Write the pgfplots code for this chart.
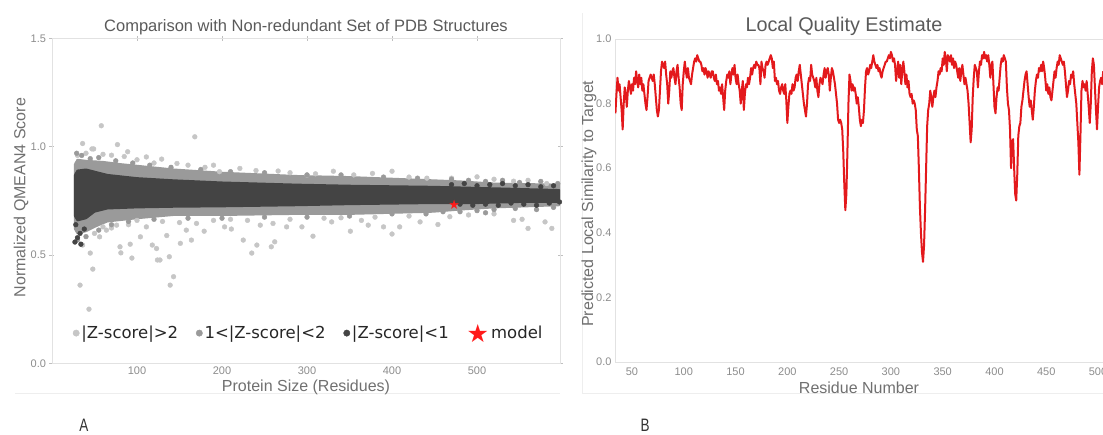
\documentclass[border=0pt]{standalone}
\usepackage{pgfplots}
\pgfplotsset{compat=1.18}
\usepackage{fontspec}
\setmainfont{Liberation Sans}
\newfontfamily\dejavu{DejaVu Sans}

\definecolor{lightc}{HTML}{C6C6C6}
\definecolor{medc}{HTML}{9A9A9A}
\definecolor{darkc}{HTML}{444444}
\definecolor{linered}{HTML}{E3191C}
\definecolor{starred}{HTML}{FF1A1A}
\definecolor{ticktext}{HTML}{8C8C8C}
\definecolor{labeltext}{HTML}{707070}
\definecolor{titletext}{HTML}{5A5A5A}
\definecolor{axisline}{HTML}{E2E2E2}
\definecolor{frameline}{HTML}{EEEEEE}

\tikzset{lab/.style={font=\fontsize{16}{19}\selectfont, text=labeltext}}
\pgfplotsset{
  panel/.style={
    scale only axis,
    axis line style={axisline, line width=0.8pt},
    tick style={color=black!25, line width=0.6pt},
    tick label style={font=\fontsize{11}{13}\selectfont, text=ticktext},
    /pgf/number format/assume math mode=true,
  },
}

\begin{document}
\begin{tikzpicture}

% faint panel frames
\draw[frameline, line width=0.8pt] (15pt,42pt) -- (560pt,42pt);
\draw[frameline, line width=0.8pt] (582pt,42pt) -- (1103pt,42pt);
\draw[frameline, line width=0.8pt] (582pt,42pt) -- (582pt,422pt);

% ---------------- panel A ----------------
\begin{axis}[panel,
  at={(52pt,71.7pt)}, anchor=south west,
  width=508pt, height=324.8pt,
  xmin=0, xmax=597.6, ymin=0, ymax=1.5,
  xtick={100,200,300,400,500}, ytick={0,0.5,1,1.5},
  xtick pos=upper, xticklabel pos=lower,
  tick align=center, major tick length=5pt,
  xticklabel style={yshift=3pt},
  yticklabel style={/pgf/number format/.cd, fixed, fixed zerofill, precision=1},
  title={Comparison with Non-redundant Set of PDB Structures},
  title style={font=\fontsize{16.5}{19}\selectfont, text=titletext,
    at={(axis description cs:0.5,1)}, anchor=center, yshift=5pt},
  xlabel={Protein Size (Residues)},
  xlabel style={lab, at={(axis description cs:0.5,-0.074)}, anchor=center},
  ylabel={Normalized QMEAN4 Score},
  ylabel style={lab, at={(axis description cs:-0.061,0.51)}, anchor=center},
  legend style={at={(axis description cs:0.035,0.093)}, anchor=west,
    draw=none, fill=none, legend columns=4,
    font=\dejavu\fontsize{16.5}{19}\selectfont, text=black!85,
    /tikz/every even column/.append style={column sep=16pt}},
  mark size=2.4pt,
]

% |Z-score|>2 (sparse outliers)
\addplot[only marks, mark=*, color=lightc, forget plot] coordinates {
(58,1.097) (168,1.046) (36,1.015) (77,1.01) (47,0.99) (49,0.99) (89,0.977) (111,0.953)
(129,0.943) (70,0.961) (190,0.915) (221,0.90) (266,0.888) (197,0.885) (147,0.923) (331,0.887)
(400,0.887) (500,0.861) (543,0.841) (582,0.83) (441,0.855) (300,0.869) (377,0.877) (100,0.94)
(120,0.925) (160,0.915) (240,0.89) (310,0.875) (355,0.87) (420,0.86) (470,0.855) (520,0.85)
(560,0.845) (85,0.955) (60,0.965) (40,0.97) (30,0.96) (180,0.905) (280,0.88)
(33,0.361) (43.5,0.25) (48,0.435) (45,0.509) (36,0.546) (80,0.538) (81,0.51) (94,0.486)
(124,0.477) (127,0.477) (138,0.492) (143,0.40) (139,0.361) (118,0.546) (123,0.53) (92,0.55)
(104,0.584) (135,0.59) (151,0.554) (164,0.569) (158,0.615) (179,0.61) (203,0.63) (225,0.569)
(235,0.509) (241,0.546) (258,0.538) (262,0.561) (245,0.638) (276,0.63) (56,0.584) (64,0.615)
(76,0.638) (111,0.63) (170,0.646) (211,0.62) (260,0.646) (307,0.587) (351,0.61) (400,0.597)
(409,0.63) (454,0.641) (468,0.677) (560,0.623) (588,0.623) (390,0.63) (372,0.638) (329,0.653)
(294,0.63) (364,0.66) (433,0.653) (543,0.66) (580,0.653) (553,0.665) (90,0.64) (130,0.655)
(190,0.66) (230,0.66) (280,0.665) (320,0.67) (380,0.675) (420,0.68) (490,0.685) (520,0.69)
(50,0.60) (70,0.625) (150,0.65) (100,0.66) (210,0.665) (340,0.672) (60,0.63)
};

% 1<|Z-score|<2 : dense band and its ragged edge
\addplot[fill=medc, draw=medc, line width=2pt, line join=round, forget plot] coordinates {
(27,0.92) (30,0.94) (40,0.935) (60,0.93) (80,0.92) (143,0.895) (200,0.88) (288,0.865)
(350,0.86) (448,0.845) (480,0.84) (520,0.83) (597,0.825)
(597,0.73) (520,0.72) (480,0.71) (448,0.70) (350,0.69) (288,0.69) (200,0.685) (143,0.685)
(100,0.67) (65,0.655) (50,0.63) (40,0.61) (30,0.60) (27,0.62) (27,0.92)
};
\addplot[only marks, mark=*, color=medc, forget plot] coordinates {
(29,0.97) (35,0.96) (45,0.945) (55,0.95) (75,0.935) (95,0.925) (115,0.915) (140,0.905)
(175,0.895) (210,0.885) (250,0.88) (300,0.87) (340,0.87) (390,0.86) (430,0.855) (470,0.85)
(490,0.845) (510,0.84) (530,0.845) (550,0.835) (575,0.84) (595,0.83)
(30,0.57) (40,0.585) (55,0.615) (70,0.64) (90,0.655) (120,0.665) (160,0.67) (200,0.67)
(250,0.675) (300,0.675) (350,0.68) (400,0.69) (440,0.69) (480,0.70) (500,0.705) (520,0.71)
(545,0.715) (570,0.71) (590,0.72) (460,0.70) (510,0.695)
};

% |Z-score|<1 : dense band and its ragged edge
\addplot[fill=darkc, draw=darkc, line width=2pt, line join=round, forget plot] coordinates {
(27,0.87) (30,0.89) (40,0.895) (50,0.885) (65,0.87) (100,0.855) (143,0.845) (200,0.835)
(288,0.825) (350,0.82) (448,0.815) (500,0.81) (550,0.805) (597,0.80)
(597,0.745) (550,0.745) (500,0.74) (448,0.74) (350,0.735) (288,0.73) (200,0.725) (143,0.723)
(100,0.72) (65,0.715) (50,0.70) (40,0.67) (30,0.66) (27,0.68) (27,0.87)
};
\addplot[only marks, mark=*, color=darkc, forget plot] coordinates {
(27,0.56) (30,0.58) (33,0.60) (28,0.64) (38,0.62) (34,0.55)
(470,0.825) (485,0.83) (500,0.82) (515,0.825) (530,0.83) (545,0.82) (560,0.825) (575,0.815)
(590,0.82) (480,0.735) (495,0.73) (510,0.735) (525,0.73) (540,0.74) (555,0.735) (570,0.73)
(585,0.74) (597,0.745)
};

% the model
\addplot[only marks, color=starred, mark=text,
  text mark={\dejavu\fontsize{13}{13}\selectfont\textcolor{starred}{★}}, forget plot]
  coordinates {(473,0.73)};

\addlegendimage{only marks, mark=*, color=lightc, mark size=3.2pt}
\addlegendentry{|Z-score|>2}
\addlegendimage{only marks, mark=*, color=medc, mark size=3.2pt}
\addlegendentry{1<|Z-score|<2}
\addlegendimage{only marks, mark=*, color=darkc, mark size=3.2pt}
\addlegendentry{|Z-score|<1}
\addlegendimage{only marks, color=starred, mark=text,
  text mark={\dejavu\fontsize{25}{25}\selectfont\textcolor{starred}{★}}}
\addlegendentry{model}
\end{axis}

% ---------------- panel B ----------------
\begin{axis}[panel,
  at={(615pt,73pt)}, anchor=south west,
  width=488pt, height=323pt,
  xmin=33.6, xmax=504.8, ymin=0, ymax=1,
  axis x line=box, axis y line=left,
  x axis line style={-}, y axis line style={-},
  xtick={50,100,...,500}, ytick={0,0.2,0.4,0.6,0.8,1.0},
  major tick length=0pt,
  xticklabel style={yshift=-2pt},
  yticklabel style={/pgf/number format/.cd, fixed, fixed zerofill, precision=1},
  title={Local Quality Estimate},
  title style={font=\fontsize{19.8}{23}\selectfont, text=titletext,
    at={(axis description cs:0.5,1)}, anchor=center, yshift=7pt, xshift=-15pt},
  xlabel={Residue Number},
  xlabel style={lab, at={(axis description cs:0.5,-0.08)}, anchor=center},
  ylabel={Predicted Local Similarity to Target},
  ylabel style={lab, at={(axis description cs:-0.0533,0.49)}, anchor=center},
]
\addplot[linered, line width=2pt, line join=round] coordinates {
(34,.77) (35,.83) (36,.88) (37,.84) (38,.86) (39,.82) (40,.78) (41,.72) (42,.80) (43,.85)
(44,.83) (45,.79) (46,.84) (47,.87) (48,.85) (49,.83) (50,.86) (51,.84) (52,.88) (53,.86)
(54,.90) (55,.87) (56,.85) (57,.89) (58,.86) (59,.88) (60,.84) (61,.86) (62,.83) (63,.80)
(64,.78) (65,.82) (66,.87) (67,.88) (68,.89) (69,.88) (70,.87) (71,.89) (72,.86) (73,.82)
(74,.78) (75,.76) (76,.78) (77,.84) (78,.90) (79,.93) (80,.92) (81,.91) (82,.93) (83,.89)
(84,.86) (85,.80) (86,.84) (87,.90) (88,.88) (89,.90) (90,.91) (91,.88) (92,.86) (93,.90)
(94,.92) (95,.88) (96,.85) (97,.80) (98,.78) (99,.86) (100,.90) (101,.93) (102,.90) (103,.88)
(104,.91) (105,.88) (106,.87) (107,.86) (108,.89) (109,.91) (110,.93) (111,.94) (112,.93) (113,.95)
(114,.94) (115,.93) (116,.93) (117,.92) (118,.90) (119,.91) (120,.89) (121,.91) (122,.90) (123,.88)
(124,.90) (125,.89) (126,.88) (127,.90) (128,.90) (129,.88) (130,.87) (131,.89) (132,.86) (133,.87)
(134,.84) (135,.85) (136,.83) (137,.86) (138,.82) (139,.78) (140,.84) (141,.87) (142,.89) (143,.88)
(144,.90) (145,.86) (146,.89) (147,.91) (148,.89) (149,.92) (150,.88) (151,.86) (152,.89) (153,.86)
(154,.84) (155,.80) (156,.84) (157,.87) (158,.78) (159,.83) (160,.86) (161,.85) (162,.88) (163,.86)
(164,.88) (165,.91) (166,.89) (167,.91) (168,.92) (169,.91) (170,.93) (171,.92) (172,.92) (173,.91)
(174,.86) (175,.93) (176,.91) (177,.90) (178,.88) (179,.92) (180,.93) (181,.92) (182,.93) (183,.94)
(184,.95) (185,.94) (186,.91) (187,.93) (188,.87) (189,.88) (190,.86) (191,.87) (192,.84) (193,.83)
(194,.85) (195,.86) (196,.84) (197,.83) (198,.86) (199,.81) (200,.74) (201,.79) (202,.83) (203,.84)
(204,.83) (205,.86) (206,.84) (207,.85) (208,.88) (209,.89) (210,.87) (211,.90) (212,.92) (213,.89)
(214,.86) (215,.83) (216,.80) (217,.78) (218,.76) (219,.80) (220,.86) (221,.88) (222,.87) (223,.92)
(224,.89) (225,.88) (226,.87) (227,.85) (228,.88) (229,.84) (230,.82) (231,.86) (232,.88) (233,.87)
(234,.86) (235,.89) (236,.91) (237,.88) (238,.90) (239,.91) (240,.89) (241,.84) (242,.88) (243,.91)
(244,.90) (245,.88) (246,.86) (247,.83) (248,.80) (249,.75) (250,.74) (251,.75) (252,.74) (253,.72)
(254,.65) (255,.55) (256,.47) (257,.52) (258,.65) (259,.80) (260,.89) (261,.87) (262,.84) (263,.86)
(264,.84) (265,.85) (266,.83) (267,.80) (268,.82) (269,.79) (270,.75) (271,.73) (272,.75) (273,.74)
(274,.78) (275,.85) (276,.90) (277,.91) (278,.89) (279,.90) (280,.92) (281,.91) (282,.93) (283,.95)
(284,.93) (285,.92) (286,.91) (287,.92) (288,.90) (289,.91) (290,.89) (291,.88) (292,.90) (293,.91)
(294,.92) (295,.93) (296,.93) (297,.94) (298,.95) (299,.94) (300,.96) (301,.95) (302,.93) (303,.94)
(304,.92) (305,.87) (306,.90) (307,.93) (308,.88) (309,.92) (310,.86) (311,.90) (312,.93) (313,.90)
(314,.86) (315,.89) (316,.85) (317,.87) (318,.83) (319,.82) (320,.83) (321,.80) (322,.81) (323,.80)
(324,.78) (325,.72) (326,.70) (327,.60) (328,.48) (329,.40) (330,.34) (331,.31) (332,.36) (333,.47)
(334,.60) (335,.73) (336,.78) (337,.80) (338,.84) (339,.82) (340,.79) (341,.82) (342,.84) (343,.82)
(344,.85) (345,.87) (346,.90) (347,.89) (348,.91) (349,.90) (350,.94) (351,.92) (352,.96) (353,.94)
(354,.90) (355,.95) (356,.94) (357,.93) (358,.95) (359,.92) (360,.94) (361,.91) (362,.93) (363,.92)
(364,.90) (365,.88) (366,.91) (367,.87) (368,.90) (369,.92) (370,.89) (371,.86) (372,.88) (373,.86)
(374,.84) (375,.80) (376,.74) (377,.68) (378,.72) (379,.82) (380,.88) (381,.92) (382,.91) (383,.90)
(384,.85) (385,.90) (386,.93) (387,.92) (388,.95) (389,.94) (390,.96) (391,.94) (392,.95) (393,.93)
(394,.95) (395,.92) (396,.88) (397,.92) (398,.93) (399,.86) (400,.79) (401,.77) (402,.82) (403,.85)
(404,.84) (405,.88) (406,.92) (407,.94) (408,.93) (409,.95) (410,.94) (411,.93) (412,.85) (413,.80)
(414,.78) (415,.72) (416,.60) (417,.68) (418,.69) (419,.60) (420,.52) (421,.50) (422,.58) (423,.70)
(424,.73) (425,.74) (426,.79) (427,.81) (428,.84) (429,.87) (430,.89) (431,.90) (432,.86) (433,.82)
(434,.79) (435,.81) (436,.78) (437,.75) (438,.79) (439,.84) (440,.87) (441,.89) (442,.88) (443,.91)
(444,.90) (445,.92) (446,.90) (447,.93) (448,.91) (449,.88) (450,.84) (451,.86) (452,.83) (453,.85)
(454,.82) (455,.81) (456,.84) (457,.87) (458,.90) (459,.88) (460,.91) (461,.93) (462,.92) (463,.95)
(464,.94) (465,.93) (466,.92) (467,.93) (468,.90) (469,.86) (470,.82) (471,.84) (472,.87) (473,.86)
(474,.89) (475,.88) (476,.90) (477,.86) (478,.83) (479,.80) (480,.74) (481,.68) (482,.58) (483,.70)
(484,.84) (485,.87) (486,.85) (487,.86) (488,.84) (489,.87) (490,.83) (491,.79) (492,.74) (493,.80)
(494,.90) (495,.94) (496,.92) (497,.85) (498,.78) (499,.72) (500,.79) (501,.85) (502,.87) (503,.88)
(504,.86) (505,.90)
};
\end{axis}

% panel letters
\node[font=\fontsize{18}{20}\selectfont, text=black!80] at (84pt,10pt) {\scalebox{0.75}[1]{A}};
\node[font=\fontsize{18}{20}\selectfont, text=black!80] at (645pt,10pt) {\scalebox{0.75}[1]{B}};

\pgfresetboundingbox
\path[use as bounding box] (0,0) rectangle (1103pt,435pt);
\end{tikzpicture}
\end{document}
